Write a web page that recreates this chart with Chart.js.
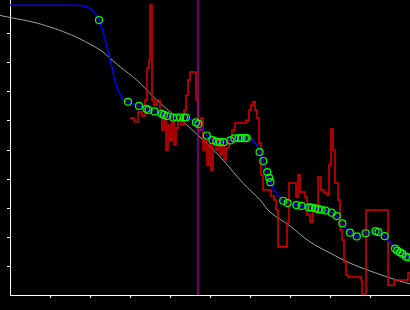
<!DOCTYPE html>
<html>
<head>
<meta charset="utf-8">
<script src="https://cdn.jsdelivr.net/npm/chart.js@4"></script>
<style>
  html, body { margin: 0; padding: 0; background: #000; }
  canvas { display: block; }
</style>
</head>
<body>
<canvas id="myChart" width="410" height="310"></canvas>
<script>
// smooth model curve (grey)
const greyX = [-2.5, 0, 5.75, 10, 14.25, 17.5, 22.5, 25, 27.5, 31.7, 35.8, 40, 44.2, 48.3, 52.5, 58.3, 62.5, 65, 70, 75, 80, 85, 90, 95, 100];
const greyY = [9.64, 9.57, 9.41, 9.24, 9.03, 8.83, 8.45, 8.17, 7.87, 7.41, 6.84, 6.32, 5.86, 5.34, 4.77, 3.85, 3.28, 2.86, 2.38, 1.83, 1.45, 1.10, 0.83, 0.59, 0.38];

// fitted curve (blue), lead-in before the markers
const blueLeadX = [0, 16.75, 18.25, 20, 21.25];
const blueLeadY = [9.99, 9.99, 9.97, 9.88, 9.71];
const blueMidX = [23.25, 24.25, 25.25, 26, 27, 28.25];
const blueMidY = [9.10, 8.55, 8.0, 7.52, 7.07, 6.76];

// markers (green circles)
const markX = [22.25, 29.5, 32.25, 34.1, 34.6, 36.1, 37.9, 38.5, 39.25, 40.8, 41.7, 42.5, 43.5, 44.0,
  46.5, 47.1, 49.2, 50.6, 51.6, 52.5, 53.4, 55.1, 56.1, 57.1, 57.9, 58.75, 59.2,
  62.4, 63.3, 64.3, 64.8, 65.1, 68.3, 69.4, 71.6, 72.9, 74.75, 75.4, 76.25, 77.1, 77.9, 78.9,
  80.4, 81.7, 83.1, 85.0, 86.7, 88.9, 91.4, 92.1, 93.7, 96.25, 96.8, 97.5, 98.1, 99.0, 99.6];
const markY = [9.48, 6.66, 6.52, 6.42, 6.38, 6.33, 6.25, 6.21, 6.17, 6.12, 6.12, 6.12, 6.12, 6.12,
  5.95, 5.90, 5.50, 5.34, 5.29, 5.27, 5.27, 5.33, 5.40, 5.41, 5.41, 5.41, 5.41,
  4.93, 4.62, 4.24, 4.04, 3.89, 3.25, 3.17, 3.10, 3.07, 3.02, 3.01, 2.99, 2.96, 2.94, 2.91,
  2.84, 2.72, 2.47, 2.15, 2.02, 2.13, 2.20, 2.17, 2.03, 1.60, 1.53, 1.47, 1.42, 1.32, 1.30];
const blueTailX = [60.75, 61.7, 100];
const blueTailY = [5.33, 5.17, 1.28];

// measured signal (red, stepped)
const redX = [30, 31, 32, 33, 33.75, 34.25, 34.75, 35, 35.5, 36, 36.75, 37.5, 38, 38.5, 39, 39.5, 40, 40.5, 41, 41.5,
  42, 42.75, 43.5, 44, 44.5, 45, 46.25, 46.5, 47, 47.75, 48.25, 48.75, 49.25, 49.75, 50.25, 50.75, 51.5, 52, 52.5, 53,
  53.5, 54, 54.75, 55.5, 56.25, 58, 59, 59.75, 60.25, 60.75, 61.25, 61.75, 62.25, 62.75, 63.25, 65.25, 66, 66.5, 67, 69.25,
  69.75, 71.5, 72, 72.5, 73.75, 74.25, 75, 75.75, 76.5, 77, 77.75, 78.5, 79.25, 79.75, 80.25, 80.75, 81.25, 82, 82.5, 83,
  83.5, 84, 84.5, 87.75, 88, 88.75, 89, 94.25, 94.5, 96, 99.5, 100];
const redY = [6.10, 5.97, 6.31, 6.17, 6.72, 7.83, 8.10, 10.0, 6.72, 6.55, 6.72, 6.38, 5.69, 6.10, 5.0, 5.86, 5.34, 5.97, 5.17, 5.76,
  6.10, 5.86, 6.38, 6.90, 7.41, 7.69, 7.69, 6.72, 5.69, 6.10, 5.0, 5.34, 4.48, 5.17, 4.31, 5.41, 5.0, 5.34, 4.83, 5.17,
  4.66, 5.07, 5.34, 5.69, 5.93, 5.93, 6.03, 6.38, 6.55, 6.66, 6.38, 6.10, 5.24, 4.14, 3.62, 3.41, 3.28, 2.93, 1.66, 2.48,
  3.86, 3.38, 4.14, 3.55, 3.38, 2.76, 2.52, 3.10, 2.93, 4.07, 3.62, 3.52, 3.45, 4.48, 5.72, 5.0, 3.86, 3.28, 2.24, 1.90,
  1.14, 0.69, 0.62, 0.52, 0, 0, 2.93, 2.93, 0.34, 0.52, 0.76, 0.76];

const cursorX = 47;

function pts(xs, ys) {
  return xs.map((x, i) => ({ x: x, y: ys[i] }));
}

const bluePoints = pts(blueLeadX, blueLeadY)
  .concat(pts(blueMidX, blueMidY))
  .concat(pts(markX, markY))
  .concat(pts(blueTailX, blueTailY))
  .sort((a, b) => a.x - b.x);

const Y_MAX = 295 / 29;

var ctx = document.getElementById('myChart').getContext('2d');
var chart = new Chart(ctx, {
  type: 'line',
  data: {
    datasets: [
      {
        data: pts(markX, markY),
        showLine: false,
        pointRadius: 3.5,
        pointBorderWidth: 1.2,
        pointBorderColor: '#00ff00',
        pointBackgroundColor: 'rgba(0,0,0,0)',
        clip: false,
        order: 0
      },
      {
        data: bluePoints,
        borderColor: '#0000ff',
        borderWidth: 1.5,
        pointRadius: 0,
        cubicInterpolationMode: 'monotone',
        order: 1
      },
      {
        data: [{ x: cursorX, y: 0 }, { x: cursorX, y: Y_MAX }],
        borderColor: '#990099',
        borderWidth: 1.5,
        pointRadius: 0,
        order: 2
      },
      {
        data: pts(redX, redY),
        borderColor: '#dd0000',
        borderWidth: 1.5,
        pointRadius: 0,
        stepped: true,
        order: 3
      },
      {
        data: pts(greyX, greyY),
        borderColor: '#a0a0a0',
        borderWidth: 1,
        pointRadius: 0,
        tension: 0.4,
        clip: false,
        order: 4
      }
    ]
  },
  options: {
    responsive: false,
    animation: false,
    devicePixelRatio: 1,
    layout: { autoPadding: false, padding: { left: 7, right: 0, top: 0, bottom: 12 } },
    plugins: { legend: { display: false }, tooltip: { enabled: false } },
    scales: {
      x: {
        type: 'linear',
        min: 0,
        max: 100,
        ticks: { display: false, stepSize: 10 },
        afterBuildTicks: s => { s.ticks = s.ticks.filter(t => t.value > 0 && t.value < 100); },
        grid: { drawOnChartArea: false, drawTicks: true, tickLength: 3, color: '#ffffff' },
        border: { color: '#ffffff', width: 1 }
      },
      y: {
        type: 'linear',
        min: 0,
        max: Y_MAX,
        ticks: { display: false, stepSize: 1 },
        afterBuildTicks: s => { s.ticks = s.ticks.filter(t => t.value > 0 && t.value < 9.5); },
        grid: { drawOnChartArea: false, drawTicks: true, tickLength: 3, color: '#ffffff' },
        border: { color: '#ffffff', width: 1 }
      }
    }
  }
});
</script>
</body>
</html>
